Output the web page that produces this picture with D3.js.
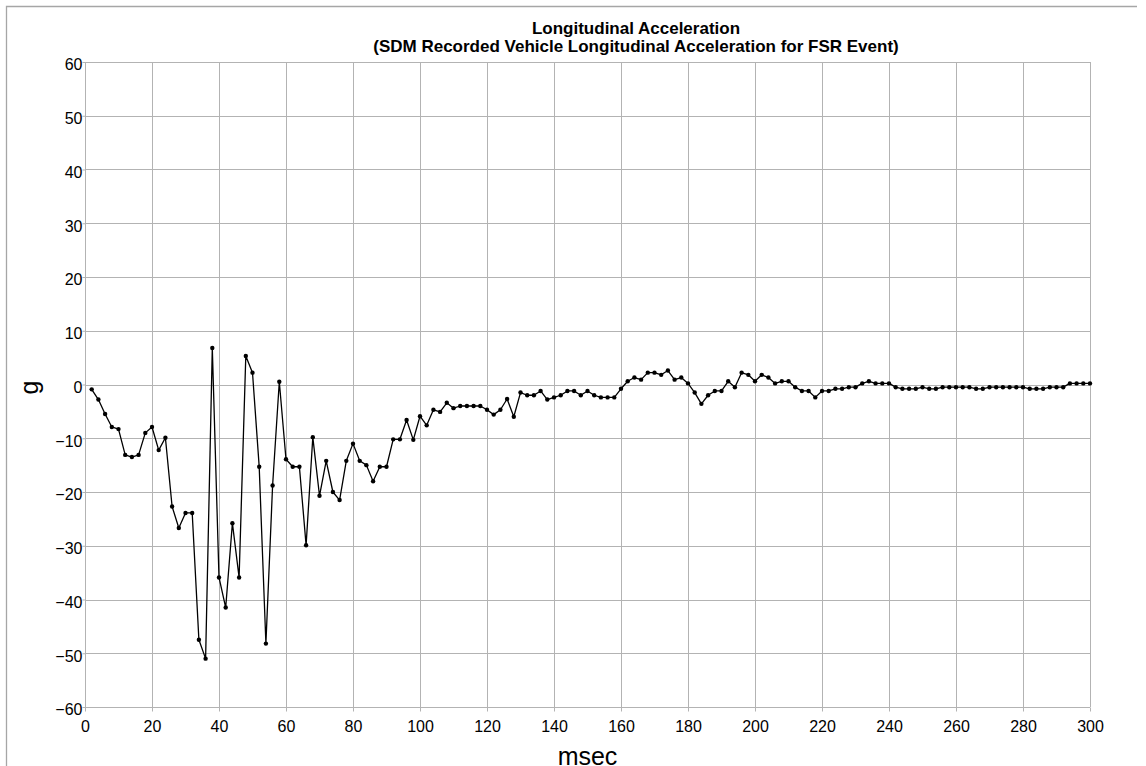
<!DOCTYPE html>
<html>
<head>
<meta charset="utf-8">
<script src="https://cdn.jsdelivr.net/npm/d3@7"></script>
<style>
  body { margin: 0; background: #fff; }
  svg { display: block; font-family: "Liberation Sans", Arial, sans-serif; }
</style>
</head>
<body>
<div id="chart"></div>
<script>
// SDM longitudinal acceleration samples, one every 2 msec
const msec = [
    2, 4, 6, 8, 10, 12, 14, 16, 18, 20, 22, 24, 26, 28, 30, 32, 34, 36, 38, 40,
    42, 44, 46, 48, 50, 52, 54, 56, 58, 60, 62, 64, 66, 68, 70, 72, 74, 76, 78, 80,
    82, 84, 86, 88, 90, 92, 94, 96, 98, 100, 102, 104, 106, 108, 110, 112, 114, 116, 118, 120,
    122, 124, 126, 128, 130, 132, 134, 136, 138, 140, 142, 144, 146, 148, 150, 152, 154, 156, 158, 160,
    162, 164, 166, 168, 170, 172, 174, 176, 178, 180, 182, 184, 186, 188, 190, 192, 194, 196, 198, 200,
    202, 204, 206, 208, 210, 212, 214, 216, 218, 220, 222, 224, 226, 228, 230, 232, 234, 236, 238, 240,
    242, 244, 246, 248, 250, 252, 254, 256, 258, 260, 262, 264, 266, 268, 270, 272, 274, 276, 278, 280,
    282, 284, 286, 288, 290, 292, 294, 296, 298, 300
];
const accelG = [
    -0.9, -2.8, -5.5, -7.9, -8.3, -13.1, -13.5, -13.1, -9.0, -7.9, -12.2, -9.9, -22.7, -26.7, -23.9, -23.9, -47.5, -51.0, 6.8, -35.9,
    -41.5, -25.8, -35.9, 5.3, 2.2, -15.3, -48.2, -18.8, 0.5, -13.9, -15.3, -15.3, -29.9, -9.8, -20.7, -14.2, -20.0, -21.5, -14.2, -11.0,
    -14.2, -15.0, -18.0, -15.3, -15.3, -10.2, -10.2, -6.6, -10.3, -5.9, -7.6, -4.7, -5.1, -3.4, -4.4, -4.0, -4.0, -4.0, -4.0, -4.7,
    -5.6, -4.7, -2.7, -6.0, -1.5, -2.0, -2.0, -1.2, -2.8, -2.4, -2.0, -1.2, -1.2, -2.0, -1.2, -2.0, -2.4, -2.4, -2.4, -0.8,
    0.6, 1.3, 0.9, 2.2, 2.2, 1.8, 2.6, 0.9, 1.3, 0.2, -1.5, -3.6, -2.0, -1.2, -1.2, 0.6, -0.5, 2.2, 1.8, 0.6,
    1.8, 1.3, 0.2, 0.6, 0.6, -0.5, -1.2, -1.2, -2.4, -1.2, -1.2, -0.8, -0.8, -0.5, -0.5, 0.2, 0.6, 0.2, 0.2, 0.2,
    -0.5, -0.8, -0.8, -0.8, -0.5, -0.8, -0.8, -0.5, -0.5, -0.5, -0.5, -0.5, -0.8, -0.8, -0.5, -0.5, -0.5, -0.5, -0.5, -0.5,
    -0.8, -0.8, -0.8, -0.5, -0.5, -0.5, 0.2, 0.2, 0.2, 0.2
];
const xTicks = [0, 20, 40, 60, 80, 100, 120, 140, 160, 180, 200, 220, 240, 260, 280, 300];
const yTicks = [-60, -50, -40, -30, -20, -10, 0, 10, 20, 30, 40, 50, 60];
const titleLines = ["Longitudinal Acceleration", "(SDM Recorded Vehicle Longitudinal Acceleration for FSR Event)"];

class LineChart
{
    constructor(node, config)
    {
        this.config = Object.assign({
            width: 1146, height: 766,
            left: 85, right: 1090, top: 62, bottom: 707,
            gridColor: "#b3b3b3", frameColor: "#a6a6a6"
        }, config);
        this.svg = d3.select(node).append("svg")
            .attr("width", this.config.width)
            .attr("height", this.config.height);
    }

    draw(points)
    {
        const { left, right, top, bottom, gridColor, frameColor } = this.config;
        const svg = this.svg;

        const x = d3.scaleLinear().domain([0, 300]).range([left, right]);
        const y = d3.scaleLinear().domain([-60, 60]).range([bottom, top]);

        // outer frame (only top and left edges show in the picture)
        svg.append("path")
            .attr("d", "M6.5,766V6.5H1137")
            .attr("fill", "none")
            .attr("stroke", frameColor)
            .attr("stroke-width", 1.3);

        // grid
        const grid = svg.append("g").attr("class", "grid")
            .attr("stroke", gridColor).attr("stroke-width", 1);
        grid.selectAll("line.v").data(xTicks).enter().append("line").attr("class", "v")
            .attr("x1", d => Math.round(x(d)) + 0.5).attr("x2", d => Math.round(x(d)) + 0.5)
            .attr("y1", top).attr("y2", bottom);
        grid.selectAll("line.h").data(yTicks).enter().append("line").attr("class", "h")
            .attr("x1", left).attr("x2", right)
            .attr("y1", d => Math.round(y(d)) + 0.5).attr("y2", d => Math.round(y(d)) + 0.5);

        // axes
        const xAxis = svg.append("g")
            .attr("transform", `translate(0,${Math.round(y(-60)) + 0.5})`)
            .call(d3.axisBottom(x).tickValues(xTicks).tickSize(4).tickPadding(9).tickSizeOuter(0));
        const yAxis = svg.append("g")
            .attr("transform", `translate(${Math.round(x(0)) + 0.5},0)`)
            .call(d3.axisLeft(y).tickValues(yTicks).tickSize(3).tickPadding(0).tickSizeOuter(0));
        [xAxis, yAxis].forEach(a => {
            a.select(".domain").remove();
            a.selectAll(".tick line").attr("stroke", gridColor);
            a.selectAll(".tick text")
                .attr("fill", "#000")
                .style("font-size", "16px")
                .style("font-family", '"Liberation Sans", Arial, sans-serif');
        });
        xAxis.selectAll(".tick text").attr("dy", "0.71em");
        yAxis.selectAll(".tick text").attr("dy", "0.36em").attr("y", 2);

        // series
        const line = d3.line().x(d => x(d.t)).y(d => y(d.g));
        svg.append("path").datum(points)
            .attr("d", line)
            .attr("fill", "none")
            .attr("stroke", "#000")
            .attr("stroke-width", 1.3)
            .attr("stroke-linejoin", "round");
        svg.append("g").selectAll("circle").data(points).enter().append("circle")
            .attr("cx", d => x(d.t)).attr("cy", d => y(d.g))
            .attr("r", 2.2).attr("fill", "#000");

        // titles
        svg.append("text")
            .attr("text-anchor", "middle")
            .style("font-size", "17px").style("font-weight", "bold")
            .selectAll("tspan").data(titleLines).enter().append("tspan")
            .attr("x", 636).attr("y", (d, i) => 34 + i * 18)
            .text(d => d);

        svg.append("text")
            .attr("x", (left + right) / 2).attr("y", 765)
            .attr("text-anchor", "middle")
            .style("font-size", "25px")
            .text("msec");

        svg.append("text")
            .attr("transform", "translate(38,387.5) rotate(-90)")
            .attr("text-anchor", "middle")
            .style("font-size", "25px")
            .text("g");
    }
}

const points = msec.map((t, i) => ({ t, g: accelG[i] }));
new LineChart(document.getElementById("chart")).draw(points);
</script>
</body>
</html>
